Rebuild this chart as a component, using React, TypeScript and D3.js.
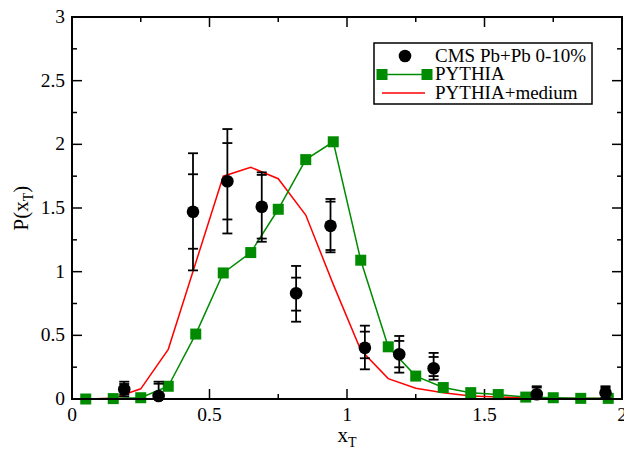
import React from "react";
import * as d3 from "d3";

const pythiaX = [0.05, 0.15, 0.25, 0.35, 0.45, 0.55, 0.65, 0.75, 0.85, 0.95, 1.05, 1.15, 1.25, 1.35, 1.45, 1.55, 1.65, 1.75, 1.85, 1.95];
const pythiaY = [0, 0.003, 0.01, 0.1, 0.51, 0.99, 1.15, 1.49, 1.88, 2.02, 1.09, 0.41, 0.18, 0.09, 0.05, 0.035, 0.015, 0.01, 0.005, 0.005];
const mediumY = [0, 0.005, 0.08, 0.39, 1.07, 1.75, 1.82, 1.73, 1.445, 0.9, 0.385, 0.16, 0.084, 0.05, 0.024, 0.015, 0.01, 0.006, 0.004, 0.003];

const cmsX = [0.19, 0.315, 0.44, 0.565, 0.69, 0.815, 0.94, 1.065, 1.19, 1.315, 1.69, 1.94];
const cmsY = [0.076, 0.024, 1.47, 1.71, 1.51, 0.83, 1.36, 0.403, 0.351, 0.241, 0.037, 0.05];
const cmsOuterHi = [0.136, 0.136, 1.93, 2.12, 1.78, 1.045, 1.571, 0.576, 0.495, 0.362, 0.1, 0.1];
const cmsOuterLo = [0.02, 0.0, 1.01, 1.3, 1.235, 0.607, 1.152, 0.233, 0.207, 0.152, 0.0, 0.0];
const cmsInnerHi = [0.118, 0.12, 1.765, 2.01, 1.76, 0.953, 1.55, 0.529, 0.456, 0.33, 0.09, 0.09];
const cmsInnerLo = [0.035, 0.0, 1.18, 1.41, 1.26, 0.694, 1.17, 0.32, 0.249, 0.18, 0.0, 0.01];

const xTicks = [0, 0.5, 1, 1.5, 2];
const yTicks = [0, 0.5, 1, 1.5, 2, 2.5, 3];
const legendLabels = ["CMS Pb+Pb 0-10%", "PYTHIA", "PYTHIA+medium"];

const GREEN = "#008b00";
const RED = "#ff0000";
const FONT = "'Liberation Serif', 'DejaVu Serif', serif";

export default function App() {
  const W = 624, H = 453;
  const L = 72, R = 622, T = 17, B = 399;
  const x = d3.scaleLinear().domain([0, 2]).range([L, R]);
  const y = d3.scaleLinear().domain([0, 3]).range([B, T]);

  const line = d3.line<number>().x((_, i) => x(pythiaX[i])).y((d) => y(d));
  const pythiaPath = line(pythiaY) || "";
  const mediumPath = line(mediumY) || "";

  const xMinor = d3.range(0, 2.001, 0.25);
  const yMinor = d3.range(0, 3.001, 0.25);

  const sq = 11;
  const cap = 5;

  return (
    <svg width={W} height={H} style={{ position: "absolute", left: 0, top: 0, background: "#fff" }} fontFamily={FONT}>
      <rect x={0} y={0} width={W} height={H} fill="#fff" />
      {/* ticks */}
      <g stroke="#000" strokeWidth={1.5}>
        {xMinor.map((v, i) => {
          const major = Math.abs(v * 2 - Math.round(v * 2)) < 1e-6;
          const len = major ? 10 : 5;
          return (
            <g key={"xt" + i}>
              <line x1={x(v)} x2={x(v)} y1={B} y2={B - len} />
              <line x1={x(v)} x2={x(v)} y1={T} y2={T + len} />
            </g>
          );
        })}
        {yMinor.map((v, i) => {
          const major = Math.abs(v * 2 - Math.round(v * 2)) < 1e-6;
          const len = major ? 10 : 5;
          return (
            <g key={"yt" + i}>
              <line x1={L} x2={L + len} y1={y(v)} y2={y(v)} />
              <line x1={R} x2={R - len} y1={y(v)} y2={y(v)} />
            </g>
          );
        })}
      </g>
      {/* tick labels */}
      {xTicks.map((v) => (
        <text key={"xl" + v} x={x(v)} y={421} textAnchor="middle" fontSize={19.5} fill="#000">
          {String(v)}
        </text>
      ))}
      {yTicks.map((v) => (
        <text key={"yl" + v} x={65} y={y(v) + 6} textAnchor="end" fontSize={19.5} fill="#000">
          {String(v)}
        </text>
      ))}
      {/* axis titles */}
      <text x={x(1)} y={442} textAnchor="middle" fontSize={21} fill="#000">
        x<tspan fontSize={14} dy={5}>T</tspan>
      </text>
      <text transform={`translate(28, ${y(1.5)}) rotate(-90)`} textAnchor="middle" fontSize={21} fill="#000">
        P(x<tspan fontSize={14} dy={5}>T</tspan><tspan dy={-5}>)</tspan>
      </text>

      {/* PYTHIA+medium */}
      <path d={mediumPath} fill="none" stroke={RED} strokeWidth={1.5} />
      {/* PYTHIA */}
      <path d={pythiaPath} fill="none" stroke={GREEN} strokeWidth={1.5} />
      {pythiaY.map((v, i) => (
        <rect key={"sq" + i} x={x(pythiaX[i]) - sq / 2} y={y(v) - sq / 2} width={sq} height={sq} fill={GREEN} />
      ))}

      {/* CMS data */}
      <g stroke="#000" strokeWidth={1.8}>
        {cmsX.map((v, i) => (
          <g key={"eb" + i}>
            <line x1={x(v)} x2={x(v)} y1={y(cmsOuterHi[i])} y2={y(cmsOuterLo[i])} />
            <line x1={x(v) - cap} x2={x(v) + cap} y1={y(cmsOuterHi[i])} y2={y(cmsOuterHi[i])} />
            <line x1={x(v) - cap} x2={x(v) + cap} y1={y(cmsOuterLo[i])} y2={y(cmsOuterLo[i])} />
            <line x1={x(v) - cap} x2={x(v) + cap} y1={y(cmsInnerHi[i])} y2={y(cmsInnerHi[i])} />
            <line x1={x(v) - cap} x2={x(v) + cap} y1={y(cmsInnerLo[i])} y2={y(cmsInnerLo[i])} />
          </g>
        ))}
      </g>
      {cmsX.map((v, i) => (
        <circle key={"pt" + i} cx={x(v)} cy={y(cmsY[i])} r={6.3} fill="#000" />
      ))}

      {/* frame */}
      <rect x={L} y={T} width={R - L} height={B - T} fill="none" stroke="#000" strokeWidth={2} />

      {/* legend */}
      <g>
        <rect x={374} y={43} width={218} height={61} fill="#fff" stroke="#000" strokeWidth={1.5} />
        <circle cx={405} cy={56} r={6.3} fill="#000" />
        <line x1={382} x2={427} y1={74.5} y2={74.5} stroke={GREEN} strokeWidth={1.5} />
        <rect x={382 - sq / 2} y={74.5 - sq / 2} width={sq} height={sq} fill={GREEN} />
        <rect x={427 - sq / 2} y={74.5 - sq / 2} width={sq} height={sq} fill={GREEN} />
        <line x1={382} x2={425} y1={93} y2={93} stroke={RED} strokeWidth={1.5} />
        {legendLabels.map((t, i) => (
          <text key={t} x={435} y={62 + i * 18.3} fontSize={19} fill="#000">
            {t}
          </text>
        ))}
      </g>
    </svg>
  );
}
